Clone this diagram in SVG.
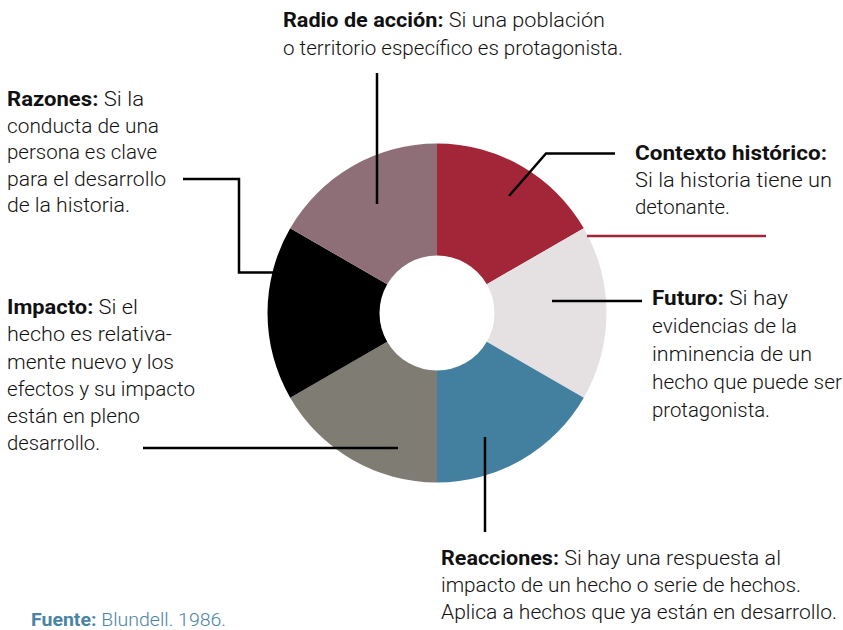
<svg xmlns="http://www.w3.org/2000/svg" width="843" height="630" viewBox="0 0 843 630">
<style>
text{font-family:Roboto,"Liberation Sans",sans-serif;font-size:20.5px;font-weight:300;fill:#111;}
.b{font-weight:bold;}
.ln{fill:none;stroke:#000;stroke-width:2.5;}
.src{fill:#4A84A5;font-size:18px;}
</style>
<rect width="843" height="630" fill="#fff"/>
<g id="donut">
<path id="seg-contexto" d="M437,143.5 A169.5,169.5 0 0 1 583.79,228.25 L486.8,284.25 A57.5,57.5 0 0 0 437,255.5 Z" fill="#A32638"/>
<path id="seg-futuro" d="M583.79,228.25 A169.5,169.5 0 0 1 583.79,397.75 L486.8,341.75 A57.5,57.5 0 0 0 486.8,284.25 Z" fill="#E5E1E2"/>
<path id="seg-reacciones" d="M583.79,397.75 A169.5,169.5 0 0 1 437,482.5 L437,370.5 A57.5,57.5 0 0 0 486.8,341.75 Z" fill="#4380A0"/>
<path id="seg-impacto" d="M437,482.5 A169.5,169.5 0 0 1 290.21,397.75 L387.2,341.75 A57.5,57.5 0 0 0 437,370.5 Z" fill="#7F7C74"/>
<path id="seg-razones" d="M290.21,397.75 A169.5,169.5 0 0 1 290.21,228.25 L387.2,284.25 A57.5,57.5 0 0 0 387.2,341.75 Z" fill="#000"/>
<path id="seg-radio" d="M290.21,228.25 A169.5,169.5 0 0 1 437,143.5 L437,255.5 A57.5,57.5 0 0 0 387.2,284.25 Z" fill="#8E6F77"/>
</g>
<g id="connectors">
<path class="ln" d="M377,73 V204"/>
<path class="ln" d="M509,196 L546,153.5 H615"/>
<path d="M587,236 H766" fill="none" stroke="#A32638" stroke-width="2.5"/>
<path class="ln" d="M552,301 H642"/>
<path class="ln" d="M485,437 V532"/>
<path class="ln" d="M143,448 H398"/>
<path class="ln" d="M183,179 H239 V272.5 H276"/>
</g>
<g id="radio">
<text x="283" y="27" textLength="322" lengthAdjust="spacingAndGlyphs"><tspan class="b">Radio de acción:</tspan> Si una población</text>
<text x="283" y="55" textLength="340" lengthAdjust="spacingAndGlyphs">o territorio específico es protagonista.</text>
</g>
<g id="razones">
<text x="7" y="106" textLength="137" lengthAdjust="spacingAndGlyphs"><tspan class="b">Razones:</tspan> Si la</text>
<text x="7" y="132.5" textLength="152" lengthAdjust="spacingAndGlyphs">conducta de una</text>
<text x="7" y="159" textLength="150" lengthAdjust="spacingAndGlyphs">persona es clave</text>
<text x="7" y="185.5" textLength="159" lengthAdjust="spacingAndGlyphs">para el desarrollo</text>
<text x="7" y="212" textLength="123" lengthAdjust="spacingAndGlyphs">de la historia.</text>
</g>
<g id="contexto">
<text x="635" y="159.5" textLength="192" lengthAdjust="spacingAndGlyphs"><tspan class="b">Contexto histórico:</tspan></text>
<text x="635" y="186.5" textLength="197" lengthAdjust="spacingAndGlyphs">Si la historia tiene un</text>
<text x="635" y="213.5" textLength="95" lengthAdjust="spacingAndGlyphs">detonante.</text>
</g>
<g id="futuro">
<text x="652" y="305" textLength="136" lengthAdjust="spacingAndGlyphs"><tspan class="b">Futuro:</tspan> Si hay</text>
<text x="652" y="333" textLength="145" lengthAdjust="spacingAndGlyphs">evidencias de la</text>
<text x="652" y="360.5" textLength="160" lengthAdjust="spacingAndGlyphs">inminencia de un</text>
<text x="652" y="388.5" textLength="190" lengthAdjust="spacingAndGlyphs">hecho que puede ser</text>
<text x="652" y="416.5" textLength="118" lengthAdjust="spacingAndGlyphs">protagonista.</text>
</g>
<g id="impacto">
<text x="7" y="313.5" textLength="131" lengthAdjust="spacingAndGlyphs"><tspan class="b">Impacto:</tspan> Si el</text>
<text x="7" y="341" textLength="165" lengthAdjust="spacingAndGlyphs">hecho es relativa-</text>
<text x="7" y="368.5" textLength="167" lengthAdjust="spacingAndGlyphs">mente nuevo y los</text>
<text x="7" y="395.5" textLength="188" lengthAdjust="spacingAndGlyphs">efectos y su impacto</text>
<text x="7" y="423" textLength="133" lengthAdjust="spacingAndGlyphs">están en pleno</text>
<text x="7" y="450" textLength="93" lengthAdjust="spacingAndGlyphs">desarrollo.</text>
</g>
<g id="reacciones">
<text x="441" y="565" textLength="340" lengthAdjust="spacingAndGlyphs"><tspan class="b">Reacciones:</tspan> Si hay una respuesta al</text>
<text x="441" y="592" textLength="360" lengthAdjust="spacingAndGlyphs">impacto de un hecho o serie de hechos.</text>
<text x="441" y="618.5" textLength="396" lengthAdjust="spacingAndGlyphs">Aplica a hechos que ya están en desarrollo.</text>
</g>
<g id="fuente">
<text class="src" x="31" y="626" textLength="195" lengthAdjust="spacingAndGlyphs"><tspan class="b">Fuente:</tspan> Blundell. 1986.</text>
</g>
</svg>
